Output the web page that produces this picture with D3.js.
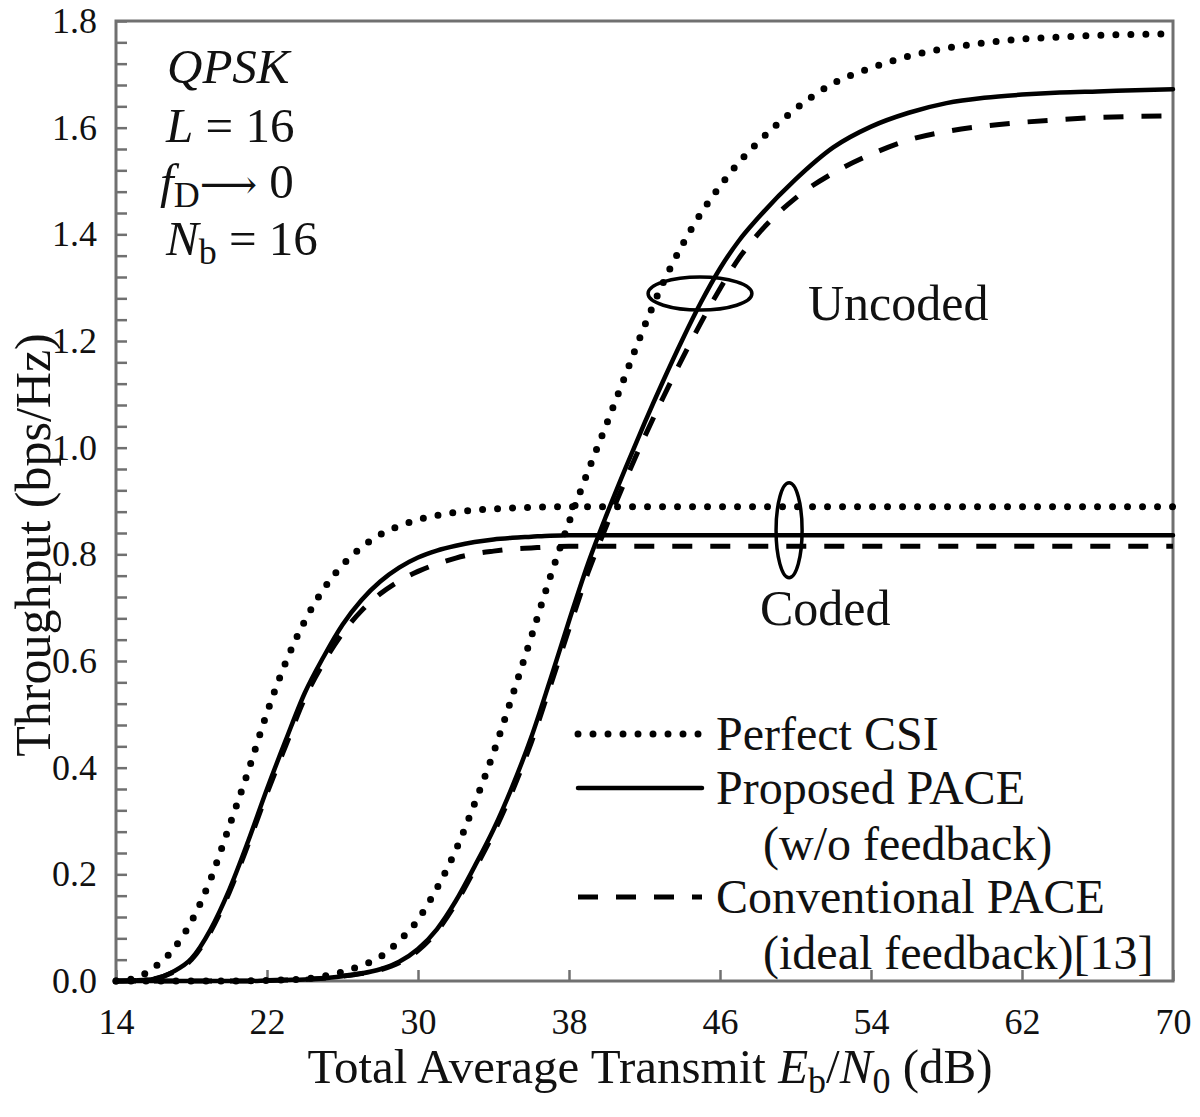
<!DOCTYPE html>
<html><head><meta charset="utf-8">
<script src="https://cdn.jsdelivr.net/npm/d3@7"></script>
<style>body{margin:0;background:#fff}</style>
</head><body>
<svg id="c" width="1200" height="1117"></svg>
<script>
// ---- data ----
const snr = [14,15,16,17,18,19,20,21,22,23,24,25,26,27,28,29,30,31,32,33,34,35,36,37,38,39,40,41,42,43,44,45,46,47,48,50,52,54,56,58,60,62,64,66,68,70];
const codedPerfect = [0,0.005,0.025,0.058,0.112,0.19,0.29,0.393,0.503,0.598,0.675,0.735,0.78,0.813,0.837,0.853,0.865,0.873,0.879,0.883,0.885,0.887,0.888,0.889,0.889,0.889,0.889,0.889,0.889,0.889,0.889,0.889,0.889,0.889,0.889,0.889,0.889,0.889,0.889,0.889,0.889,0.889,0.889,0.889,0.889,0.889];
const codedProposed = [0,0.001,0.004,0.017,0.042,0.096,0.171,0.262,0.36,0.452,0.54,0.608,0.668,0.714,0.749,0.775,0.794,0.807,0.816,0.823,0.828,0.831,0.833,0.835,0.836,0.836,0.836,0.836,0.836,0.836,0.836,0.836,0.836,0.836,0.836,0.836,0.836,0.836,0.836,0.836,0.836,0.836,0.836,0.836,0.836,0.836];
const codedConventional = [0,0.001,0.004,0.016,0.04,0.092,0.166,0.256,0.352,0.442,0.53,0.597,0.652,0.694,0.726,0.75,0.768,0.782,0.793,0.801,0.806,0.81,0.812,0.814,0.815,0.815,0.815,0.815,0.815,0.815,0.815,0.815,0.815,0.815,0.815,0.815,0.815,0.815,0.815,0.815,0.815,0.815,0.815,0.815,0.815,0.815];
const uncodedPerfect = [0,0,0,0,0,0,0,0.0005,0.001,0.002,0.004,0.009,0.017,0.029,0.045,0.075,0.115,0.174,0.245,0.333,0.428,0.535,0.645,0.757,0.86,0.955,1.045,1.137,1.228,1.31,1.38,1.44,1.49,1.535,1.572,1.635,1.683,1.712,1.734,1.749,1.759,1.766,1.77,1.773,1.775,1.776];
const uncodedProposed = [0,0,0,0,0,0,0,0,0.001,0.002,0.003,0.005,0.009,0.014,0.022,0.036,0.06,0.097,0.15,0.215,0.284,0.365,0.457,0.564,0.675,0.782,0.875,0.962,1.046,1.126,1.202,1.273,1.336,1.388,1.43,1.503,1.563,1.602,1.628,1.646,1.656,1.662,1.666,1.668,1.67,1.672];
const uncodedConventional = [0,0,0,0,0,0,0,0,0.001,0.002,0.003,0.005,0.009,0.014,0.021,0.034,0.057,0.093,0.145,0.209,0.277,0.356,0.447,0.552,0.66,0.765,0.855,0.94,1.02,1.095,1.167,1.235,1.298,1.355,1.40,1.468,1.515,1.55,1.577,1.593,1.603,1.61,1.615,1.619,1.621,1.622];
const xTicks = [14,22,30,38,46,54,62,70];
const yTicks = [0,0.2,0.4,0.6,0.8,1.0,1.2,1.4,1.6,1.8];
const yMinorStep = 0.04;
const legendLabels = [["Perfect CSI"],["Proposed PACE","(w/o feedback)"],["Conventional PACE","(ideal feedback)[13]"]];
// annotation ellipses: [center dB, center value, radius dB, radius value]
const ellipseUncoded = [44.94, 1.289, 2.75, 0.031];
const ellipseCoded = [49.66, 0.845, 0.69, 0.089];

// ---- layout ----
const W = 1200, H = 1117;
const m = {l:116, r:1173, t:21, b:981};
const font = "'Liberation Serif','Times New Roman',Times,serif";
const x = d3.scaleLinear().domain([14,70]).range([m.l, m.r]);
const y = d3.scaleLinear().domain([0,1.8]).range([m.b, m.t]);
const svg = d3.select('#c');
svg.append('rect').attr('width', W).attr('height', H).attr('fill', '#fff');

svg.append('clipPath').attr('id','clip').append('rect')
  .attr('x', m.l - 4).attr('y', m.t - 6).attr('width', m.r - m.l + 8).attr('height', m.b - m.t + 12);

const axisColor = '#707070';

// y axis
const yAll = d3.range(0, Math.round(1.8 / yMinorStep) + 1).map(i => +(i * yMinorStep).toFixed(2));
const isMajor = d => yTicks.some(t => Math.abs(t - d) < 1e-6);
const yAxis = d3.axisLeft(y).tickValues(yAll).tickSizeInner(-11).tickSizeOuter(0).tickPadding(19)
  .tickFormat(d => isMajor(d) ? d3.format('.1f')(d) : '');
const gy = svg.append('g').attr('transform', `translate(${m.l},0)`).call(yAxis);
gy.select('.domain').remove();
gy.selectAll('line').attr('stroke', axisColor).attr('stroke-width', 2.5);
gy.selectAll('text').attr('font-family', font).attr('font-size', 36).attr('fill', '#111');

// x axis
const xAxis = d3.axisBottom(x).tickValues(xTicks).tickSizeInner(-11).tickSizeOuter(0).tickPadding(27)
  .tickFormat(d3.format('d'));
const gx = svg.append('g').attr('transform', `translate(0,${m.b})`).call(xAxis);
gx.select('.domain').remove();
gx.selectAll('line').attr('stroke', axisColor).attr('stroke-width', 2.5);
gx.selectAll('text').attr('font-family', font).attr('font-size', 36).attr('fill', '#111');

// frame
svg.append('rect').attr('x', m.l).attr('y', m.t).attr('width', m.r - m.l).attr('height', m.b - m.t)
  .attr('fill', 'none').attr('stroke', axisColor).attr('stroke-width', 3);

// series
const styles = {
  perfect: {w: 7, dash: '0,15', cap: 'round'},
  proposed: {w: 4.5, dash: null, cap: 'round'},
  conventional: {w: 5, dash: '20,18', cap: 'butt'}
};
const series = [
  {v: codedPerfect, s: 'perfect'}, {v: uncodedPerfect, s: 'perfect'},
  {v: codedProposed, s: 'proposed'}, {v: uncodedProposed, s: 'proposed'},
  {v: codedConventional, s: 'conventional'}, {v: uncodedConventional, s: 'conventional'}
];
const line = d3.line().x(d => x(d[0])).y(d => y(d[1])).curve(d3.curveMonotoneX);
const gl = svg.append('g').attr('clip-path', 'url(#clip)');
series.forEach(sr => {
  const st = styles[sr.s];
  gl.append('path').datum(snr.map((d, i) => [d, sr.v[i]]))
    .attr('d', line).attr('fill', 'none').attr('stroke', '#000')
    .attr('stroke-width', st.w).attr('stroke-dasharray', st.dash)
    .attr('stroke-linecap', st.cap).attr('stroke-linejoin', 'round');
});

// ellipses
[ellipseUncoded, ellipseCoded].forEach(e => {
  svg.append('ellipse')
    .attr('cx', x(e[0])).attr('cy', y(e[1]))
    .attr('rx', x(e[0] + e[2]) - x(e[0])).attr('ry', y(e[1]) - y(e[1] + e[3]))
    .attr('fill', 'none').attr('stroke', '#000').attr('stroke-width', 3.5);
});

// annotation labels
svg.append('text').attr('x', 808).attr('y', 320).attr('font-family', font).attr('font-size', 50).attr('fill', '#111').text('Uncoded');
svg.append('text').attr('x', 760).attr('y', 625).attr('font-family', font).attr('font-size', 50).attr('fill', '#111').text('Coded');

// parameters block
const pf = 49;
const pb = svg.append('g').attr('font-family', font).attr('font-size', pf).attr('fill', '#111');
pb.append('text').attr('x', 167).attr('y', 83).attr('font-style', 'italic').text('QPSK');
let t = pb.append('text').attr('x', 166).attr('y', 142);
t.append('tspan').attr('font-style', 'italic').text('L');
t.append('tspan').text(' = 16');
t = pb.append('text').attr('x', 160).attr('y', 198);
t.append('tspan').attr('font-style', 'italic').text('f');
t.append('tspan').attr('font-size', 36).attr('dy', 9).text('D');
t.append('tspan').attr('dy', -9).attr('font-family', "'DejaVu Serif',serif").attr('font-size', 40).text('\u27F6');
t.append('tspan').text(' 0');
t = pb.append('text').attr('x', 166).attr('y', 255);
t.append('tspan').attr('font-style', 'italic').text('N');
t.append('tspan').attr('font-size', 36).attr('dy', 9).text('b');
t.append('tspan').attr('dy', -9).text(' = 16');

// legend
const lg = svg.append('g').attr('font-family', font).attr('font-size', 48).attr('fill', '#111');
const legY = [[750], [804], [860], [913], [969]];
const legRows = [[750], [804, 860], [913, 969]];
const legStyle = ['perfect', 'proposed', 'conventional'];
legendLabels.forEach((labs, i) => {
  const st = styles[legStyle[i]];
  const ly = legRows[i][0] - 16;
  lg.append('line').attr('x1', 578).attr('x2', 702).attr('y1', ly).attr('y2', ly)
    .attr('stroke', '#000').attr('stroke-width', st.w).attr('stroke-dasharray', st.dash)
    .attr('stroke-linecap', st.cap);
  labs.forEach((lab, j) => {
    lg.append('text').attr('x', j === 0 ? 716 : 763).attr('y', legRows[i][j]).text(lab);
  });
});

// axis titles
const xt = svg.append('text').attr('x', 650).attr('y', 1083).attr('text-anchor', 'middle')
  .attr('font-family', font).attr('font-size', 49).attr('fill', '#111');
xt.append('tspan').text('Total Average Transmit ');
xt.append('tspan').attr('font-style', 'italic').text('E');
xt.append('tspan').attr('font-size', 36).attr('dy', 10).text('b');
xt.append('tspan').attr('dy', -10).text('/');
xt.append('tspan').attr('font-style', 'italic').text('N');
xt.append('tspan').attr('font-size', 36).attr('dy', 10).text('0');
xt.append('tspan').attr('dy', -10).text(' (dB)');

svg.append('text').attr('transform', 'translate(50,545) rotate(-90)').attr('text-anchor', 'middle')
  .attr('font-family', font).attr('font-size', 50).attr('fill', '#111').text('Throughput (bps/Hz)');
</script>
</body></html>
